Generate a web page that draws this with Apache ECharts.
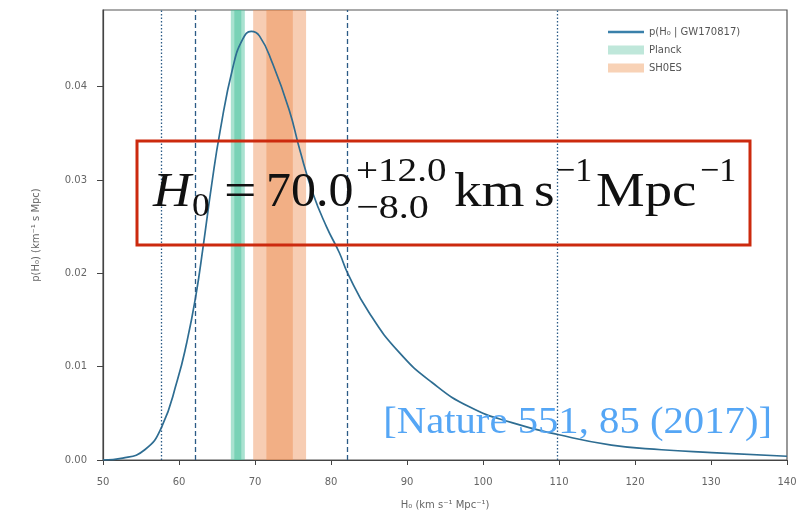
<!DOCTYPE html>
<html>
<head>
<meta charset="utf-8">
<script src="https://cdn.jsdelivr.net/npm/echarts@6/dist/echarts.min.js"></script>
<style>
  html, body { margin: 0; padding: 0; background: #fff; }
  #chart { width: 807px; height: 515px; }
</style>
</head>
<body>
<div id="chart"></div>
<script>
// posterior p(H0 | GW170817)
var h0 = [50, 52.6, 55.5, 57.7, 59.8, 61.0, 62.2, 63.2, 64.3, 65.4, 67.1, 68.4, 69.5, 70.6, 72.3, 74.5, 75.9, 77.6, 79.4, 81.1, 82.2, 85.0, 89.0, 93.3, 98.2, 103.8, 110.0, 116.9, 123.5, 130.1, 140];
var pH0 = [0.0000, 0.0002, 0.0011, 0.0035, 0.0086, 0.0125, 0.0175, 0.0230, 0.0295, 0.0352, 0.0421, 0.0451, 0.0459, 0.0454, 0.0425, 0.0375, 0.0332, 0.0286, 0.0250, 0.0222, 0.0200, 0.0158, 0.0115, 0.0083, 0.0057, 0.0040, 0.0027, 0.0016, 0.0011, 0.0008, 0.0004];

// credible intervals (dashed 68%, dotted 95%)
var dashedLines = [62.2, 82.2];
var dottedLines = [57.7, 109.8];

// bands: [outer, inner]
var planck = [[66.82, 68.66], [67.28, 68.20]];
var shoes = [[69.76, 76.72], [71.50, 74.98]];

var yTicks = [0, 0.01, 0.02, 0.03, 0.04];

var curve = h0.map(function (x, i) { return [x, pH0[i]]; });

function bandAreas(b) {
  return b.map(function (r) { return [{ xAxis: r[0] }, { xAxis: r[1] }]; });
}

var vlines = dashedLines.map(function (x) {
  return { xAxis: x, lineStyle: { type: [5, 3] } };
}).concat(dottedLines.map(function (x) {
  return { xAxis: x, lineStyle: { type: [1.5, 2] } };
}));

var tickLabel = { fontFamily: 'DejaVu Sans', fontSize: 10, color: '#666' };
var serif = 'Liberation Serif';

// one piece of the formula
function tex(str, x, y, size, sx, italic) {
  return {
    type: 'text', x: x, y: y, scaleX: sx, z: 11,
    style: { text: str, font: (italic ? 'italic ' : '') + size + 'px ' + serif, fill: '#111', verticalAlign: 'middle' }
  };
}

var chart = echarts.init(document.getElementById('chart'));
chart.setOption({
  animation: false,
  grid: { left: 103, right: 20, top: 10, bottom: 55, show: true, borderColor: '#555', borderWidth: 1.2 },
  legend: {
    orient: 'vertical', left: 603, top: 22, itemWidth: 36, itemHeight: 9, itemGap: 8,
    textStyle: { fontFamily: 'DejaVu Sans', fontSize: 10, color: '#555' },
    data: [
      { name: 'p(H₀ | GW170817)', icon: 'path://M0,0H40V3H0Z', itemStyle: { color: '#3a80aa' } },
      { name: 'Planck', icon: 'rect', itemStyle: { color: '#bfe7da' } },
      { name: 'SH0ES', icon: 'rect', itemStyle: { color: '#f8d2b6' } }
    ]
  },
  xAxis: {
    type: 'value', min: 50, max: 140, interval: 10,
    name: 'H₀ (km s⁻¹ Mpc⁻¹)', nameLocation: 'middle', nameGap: 40,
    nameTextStyle: { fontFamily: 'DejaVu Sans', fontSize: 10, color: '#666' },
    axisLine: { lineStyle: { color: '#444', width: 1.2 } },
    axisTick: { length: 5, lineStyle: { color: '#444' } },
    axisLabel: Object.assign({ margin: 17 }, tickLabel),
    splitLine: { show: false }
  },
  yAxis: {
    type: 'value', min: 0, max: 0.0482,
    name: 'p(H₀) (km⁻¹ s Mpc)', nameLocation: 'middle', nameGap: 62, nameRotate: 90,
    nameTextStyle: { fontFamily: 'DejaVu Sans', fontSize: 10, color: '#666' },
    axisLine: { lineStyle: { color: '#444', width: 1.2 } },
    axisTick: { length: 6, customValues: yTicks, lineStyle: { color: '#444' } },
    axisLabel: Object.assign({ margin: 16, customValues: yTicks, formatter: function (v) { return v.toFixed(2); } }, tickLabel),
    splitLine: { show: false }
  },
  series: [
    {
      name: 'Planck', type: 'line', data: [], z: 1, color: '#bfe7da',
      markArea: { silent: true, itemStyle: { color: 'rgba(64,190,150,0.45)' }, data: bandAreas(planck) }
    },
    {
      name: 'SH0ES', type: 'line', data: [], z: 1, color: '#f8d2b6',
      markArea: { silent: true, itemStyle: { color: 'rgba(235,130,65,0.4)' }, data: bandAreas(shoes) }
    },
    {
      name: 'p(H₀ | GW170817)', type: 'line', data: curve, z: 3,
      smooth: 0.5,
      showSymbol: false, color: '#2e6d92',
      lineStyle: { color: '#2e6d92', width: 1.7 },
      markLine: {
        silent: true, symbol: 'none', label: { show: false },
        lineStyle: { color: '#2b5b86', width: 1.3 },
        data: vlines
      }
    }
  ],
  graphic: [
    { type: 'rect', shape: { x: 137, y: 141, width: 613, height: 104 }, style: { fill: 'none', stroke: '#cc2a0e', lineWidth: 3 }, z: 10 },
    tex('H', 153, 193, 48, 1.1, true),
    tex('0', 192, 207, 34, 1.05),
    tex('=', 224, 193, 48, 1.2),
    tex('70.0', 266, 193, 48, 1.04),
    tex('+12.0', 356, 172, 34, 1.15),
    tex('−8.0', 356, 209, 34, 1.18),
    tex('km', 454, 193, 48, 1.15),
    tex('s', 534, 193, 48, 1.1),
    tex('−1', 556, 172, 34, 1),
    tex('Mpc', 596, 193, 48, 1.14),
    tex('−1', 700, 172, 34, 1),
    // citation
    {
      type: 'text', x: 772, y: 423, scaleX: 1.1, z: 11,
      style: { text: '[Nature 551, 85 (2017)]', font: '37px ' + serif, fill: '#55a6f5', align: 'right', verticalAlign: 'middle' }
    }
  ]
});
</script>
</body>
</html>
